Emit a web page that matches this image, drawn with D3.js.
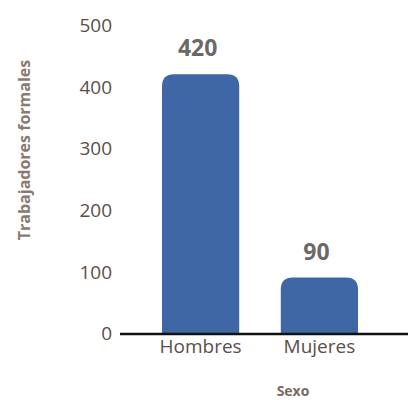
<!DOCTYPE html>
<html><head><meta charset="utf-8">
<script src="https://cdn.jsdelivr.net/npm/d3@7"></script>
<style>body{margin:0;background:#fff}svg{display:block}</style>
</head><body>
<script>
const categories = ["Hombres", "Mujeres"];
const values = [420, 90];
const yTicks = [0, 100, 200, 300, 400, 500];
const yTitle = "Trabajadores formales";
const xTitle = "Sexo";

const W = 408, H = 400;
const font = "'Open Sans', sans-serif";
const svg = d3.select("body").append("svg").attr("width", W).attr("height", H);

const y = d3.scaleLinear().domain([0, 500]).range([333, 25]);
const x = d3.scaleBand().domain(categories).range([162, 358]).paddingInner(0.35).paddingOuter(0);

const r = 12;
svg.selectAll("path.bar").data(categories).join("path")
  .attr("class", "bar")
  .attr("fill", "#3f67a5")
  .attr("d", (c, i) => {
    const x0 = x(c), x1 = x0 + x.bandwidth(), yt = y(values[i]), yb = y(0);
    return `M${x0},${yb}V${yt + r}Q${x0},${yt} ${x0 + r},${yt}H${x1 - r}Q${x1},${yt} ${x1},${yt + r}V${yb}Z`;
  });

// value labels
svg.selectAll("text.val").data(categories).join("text")
  .attr("class", "val")
  .attr("x", c => x(c) + x.bandwidth() / 2 - 3)
  .attr("y", (c, i) => y(values[i]) - 18)
  .attr("text-anchor", "middle")
  .attr("font-family", font).attr("font-weight", 700).attr("font-size", 23)
  .attr("fill", "#6b6866")
  .text((c, i) => values[i]);

// y axis labels
const yAxis = d3.axisLeft(y).tickValues(yTicks).tickSize(0).tickPadding(0);
const gy = svg.append("g").attr("transform", "translate(112,0)").call(yAxis);
gy.select(".domain").remove();
gy.selectAll("text").attr("font-family", font).attr("font-size", 19).attr("fill", "#5a4e4a").attr("dy", "0.35em");

// x axis
const xAxis = d3.axisBottom(x).tickSize(0).tickPadding(6);
const gx = svg.append("g").attr("transform", `translate(0,${y(0)})`).call(xAxis);
gx.select(".domain").remove();
gx.selectAll("text").attr("font-family", font).attr("font-size", 19).attr("fill", "#5a4e4a");
svg.append("line").attr("x1", 120).attr("x2", W).attr("y1", y(0) + 1).attr("y2", y(0) + 1)
  .attr("stroke", "#111").attr("stroke-width", 2.5);

// titles
svg.append("text").attr("x", 293).attr("y", 396).attr("text-anchor", "middle")
  .attr("font-family", font).attr("font-weight", 700).attr("font-size", 14).attr("fill", "#7a6a62").text(xTitle);
svg.append("text").attr("transform", "translate(30,150) rotate(-90)").attr("text-anchor", "middle")
  .attr("font-family", font).attr("font-weight", 700).attr("font-size", 16).attr("fill", "#8a7a70").text(yTitle);
</script>
</body></html>
